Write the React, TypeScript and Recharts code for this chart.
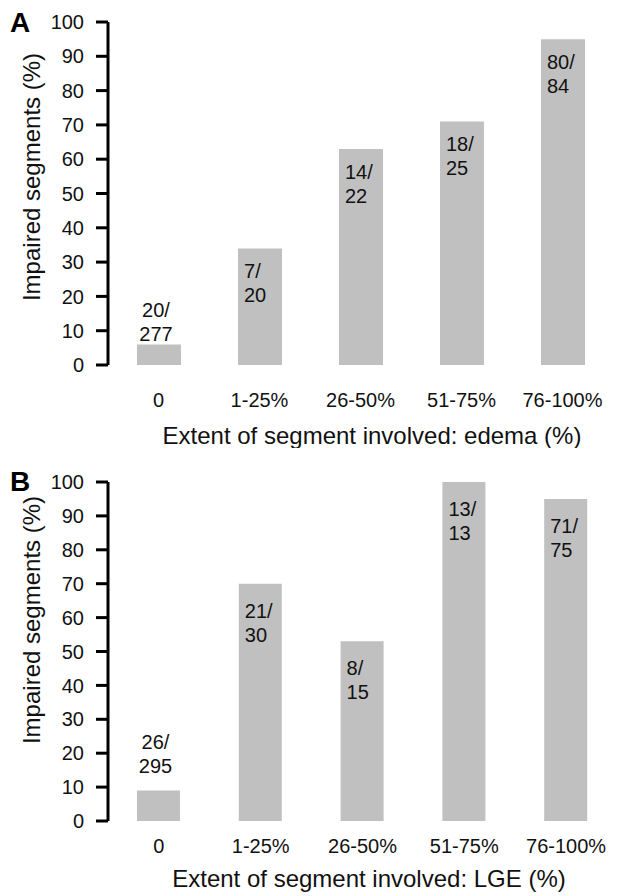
import React from 'react';
import { BarChart, Bar, XAxis, YAxis, LabelList } from 'recharts';

const categories = ['0', '1-25%', '26-50%', '51-75%', '76-100%'];
const edemaValues = [6, 34, 63, 71, 95];
const edemaCounts = ['20/277', '7/20', '14/22', '18/25', '80/84'];
const lgeValues = [9, 70, 53, 100, 95];
const lgeCounts = ['26/295', '21/30', '8/15', '13/13', '71/75'];
const yTicks = [0, 10, 20, 30, 40, 50, 60, 70, 80, 90, 100];
const edgeTicks = [0, 1, 2, 3, 4, 5];
const yTitle = 'Impaired segments (%)';

const FONT = 'Liberation Sans, Arial, Helvetica, sans-serif';
const INK = '#111';
const BAR = '#c0c0c0';

type PanelProps = {
  letter: string;
  letterBaseline: number;
  values: number[];
  counts: string[];
  xTitle: string;
  margin: { top: number; right: number; bottom: number; left: number };
  xAxisHeight: number;
  xTickMargin: number;
  xTitleX: number;
  xTitleBaseline: number;
  yTitleCenter: number;
  barSize: number;
  aboveOffset: number;
  insideFirst: number;
};

function Panel(p: PanelProps) {
  const data = categories.map((c, i) => ({ cat: c, value: p.values[i], frac: p.counts[i] }));

  const renderLabel = (props: any) => {
    const { x, y, width, height, value } = props;
    const parts = String(value).split('/');
    const common = { fontFamily: FONT, fontSize: 20, fill: INK } as const;
    if (height < 50) {
      const cx = x + width / 2 - 3;
      return (
        <g>
          <text x={cx} y={y - p.aboveOffset - 24} textAnchor="middle" {...common}>{parts[0]}/</text>
          <text x={cx} y={y - p.aboveOffset} textAnchor="middle" {...common}>{parts[1]}</text>
        </g>
      );
    }
    const lx = x + 6;
    return (
      <g>
        <text x={lx} y={y + p.insideFirst} textAnchor="start" {...common}>{parts[0]}/</text>
        <text x={lx} y={y + p.insideFirst + 24} textAnchor="start" {...common}>{parts[1]}</text>
      </g>
    );
  };

  return (
    <div style={{ position: 'relative', width: 618, height: 448 }}>
      <BarChart width={618} height={448} data={data} margin={p.margin}>
        <XAxis
          xAxisId="edge"
          type="number"
          domain={[0, categories.length]}
          ticks={edgeTicks}
          allowDataOverflow
          height={0}
          tickSize={12}
          tickFormatter={() => ''}
          axisLine={{ stroke: '#000', strokeWidth: 3 }}
          tickLine={{ stroke: '#000', strokeWidth: 3 }}
        />
        <XAxis
          xAxisId="cat"
          dataKey="cat"
          type="category"
          height={p.xAxisHeight}
          axisLine={false}
          tickLine={false}
          tickSize={0}
          tickMargin={p.xTickMargin}
          interval={0}
          tick={{ fontFamily: FONT, fontSize: 20, fill: INK }}
        />
        <YAxis
          domain={[0, 100]}
          ticks={yTicks}
          interval={0}
          width={108}
          tickSize={12}
          tickMargin={12}
          axisLine={{ stroke: '#000', strokeWidth: 3 }}
          tickLine={{ stroke: '#000', strokeWidth: 3 }}
          tick={{ fontFamily: FONT, fontSize: 20, fill: INK }}
        />
        <Bar dataKey="value" xAxisId="cat" fill={BAR} barSize={p.barSize} isAnimationActive={false}>
          <LabelList dataKey="frac" content={renderLabel} />
        </Bar>
      </BarChart>
      <svg
        width={618}
        height={448}
        style={{ position: 'absolute', left: 0, top: 0, pointerEvents: 'none' }}
      >
        <text x={10} y={p.letterBaseline} fontFamily={FONT} fontSize={28} fontWeight="bold" fill="#000">
          {p.letter}
        </text>
        <text
          x={p.xTitleX}
          y={p.xTitleBaseline}
          textAnchor="middle"
          fontFamily={FONT}
          fontSize={24}
          fill={INK}
        >
          {p.xTitle}
        </text>
        <text
          x={40}
          y={p.yTitleCenter}
          transform={`rotate(-90 40 ${p.yTitleCenter})`}
          textAnchor="middle"
          fontFamily={FONT}
          fontSize={24}
          fill={INK}
        >
          {yTitle}
        </text>
      </svg>
    </div>
  );
}

export default function App() {
  return (
    <div style={{ position: 'absolute', left: 0, top: 0, width: 618, height: 896, background: '#fff' }}>
      <Panel
        letter="A"
        letterBaseline={32}
        values={edemaValues}
        counts={edemaCounts}
        xTitle="Extent of segment involved: edema (%)"
        margin={{ top: 22, right: 5, bottom: 0, left: 0 }}
        xAxisHeight={83}
        xTickMargin={28}
        xTitleX={372}
        xTitleBaseline={444}
        yTitleCenter={177}
        barSize={44}
        aboveOffset={3}
        insideFirst={30}
      />
      <Panel
        letter="B"
        letterBaseline={43}
        values={lgeValues}
        counts={lgeCounts}
        xTitle="Extent of segment involved: LGE (%)"
        margin={{ top: 34, right: 1, bottom: 0, left: 0 }}
        xAxisHeight={75}
        xTickMargin={18}
        xTitleX={369}
        xTitleBaseline={439}
        yTitleCenter={172}
        barSize={43}
        aboveOffset={17}
        insideFirst={34}
      />
    </div>
  );
}
